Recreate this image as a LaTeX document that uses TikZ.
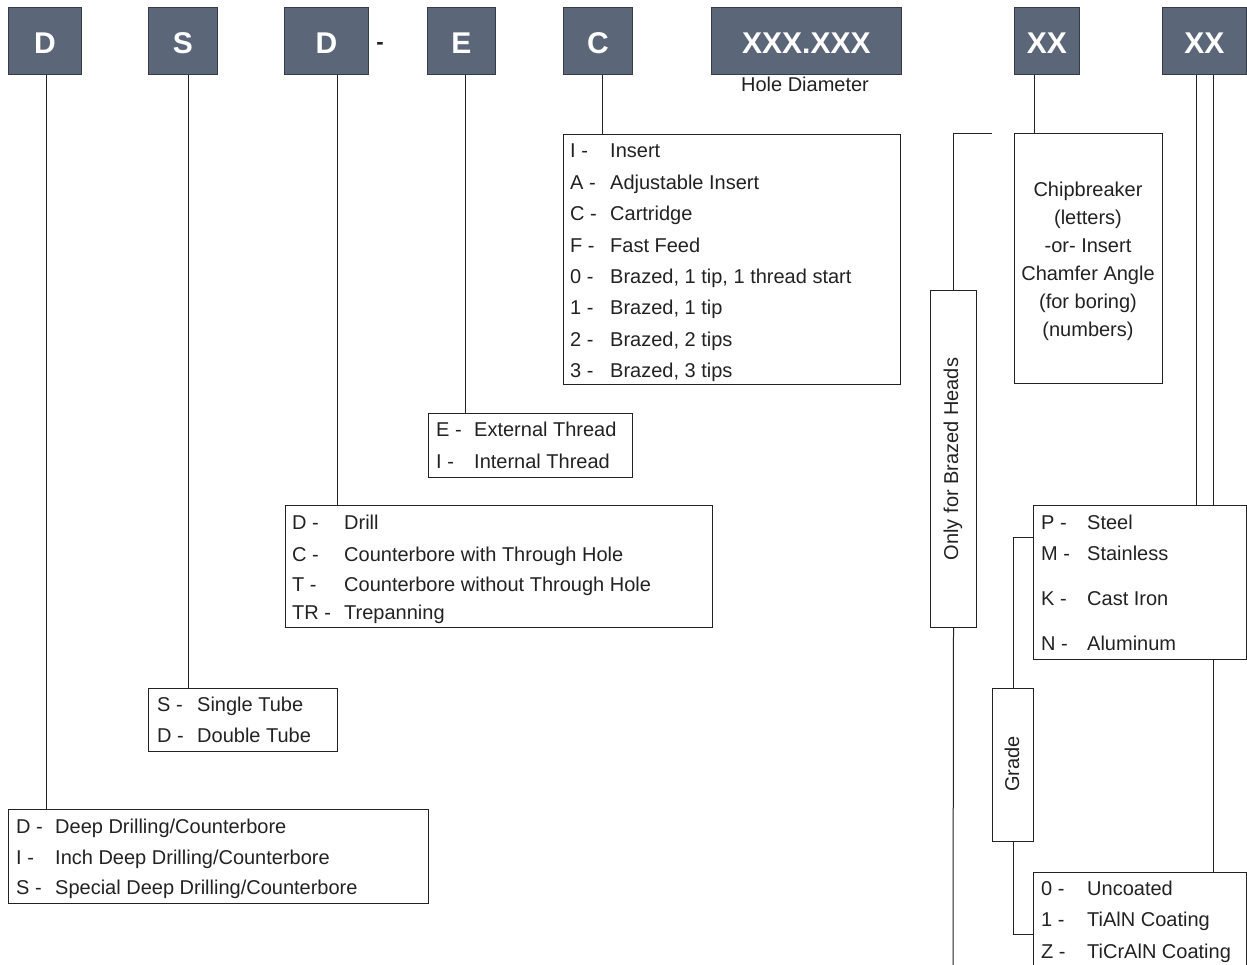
\documentclass[tikz,border=0pt]{standalone}
\usepackage{fontspec}
\setmainfont{Liberation Sans}
\definecolor{hdrfill}{HTML}{5C6679}
\definecolor{hdredge}{HTML}{353B47}
\definecolor{ink}{HTML}{222222}
\begin{document}
\begin{tikzpicture}[x=1pt,y=-1pt,
  hdr/.style={fill=hdrfill,draw=hdredge,line width=0.8pt,anchor=north west,inner sep=0pt,
    text=white,font=\fontsize{30}{32}\selectfont\bfseries,text height=25pt,text depth=0pt},
  optbox/.style={draw=ink,line width=1pt,anchor=north west,inner sep=0pt},
  conn/.style={draw=ink,line width=1pt},
  txt/.style={anchor=base west,inner sep=0pt,text=ink,font=\fontsize{20}{24}\selectfont},
  ctxt/.style={inner sep=0pt,text=ink,font=\fontsize{20}{28}\selectfont,align=center}]
\useasboundingbox (0,0) rectangle (1247,964);

% header boxes
\node[hdr,minimum width=73,minimum height=67] (hD1) at (8,7) {D};
\node[hdr,minimum width=69,minimum height=67] (hS) at (148,7) {S};
\node[hdr,minimum width=84,minimum height=67] (hD2) at (284,7) {D};
\node[anchor=base,inner sep=0pt,text=ink,font=\fontsize{22}{24}\selectfont\bfseries] (dash) at (380,49.5) {-};
\node[hdr,minimum width=68,minimum height=67] (hE) at (427,7) {E};
\node[hdr,minimum width=69,minimum height=67] (hC) at (563,7) {C};
\node[hdr,minimum width=190,minimum height=67] (hX) at (711,7) {XXX.XXX};
\node[hdr,minimum width=65,minimum height=67] (hXX1) at (1014,7) {XX};
\node[hdr,minimum width=84,minimum height=67] (hXX2) at (1162,7) {XX};
\node[anchor=base,inner sep=0pt,text=ink,font=\fontsize{20}{24}\selectfont] (hole) at (805,91) {Hole Diameter};

% option boxes
\node[optbox,minimum width=337,minimum height=250] (bC) at (563,134) {};
\node[optbox,minimum width=204,minimum height=64] (bE) at (428,413) {};
\node[optbox,minimum width=427,minimum height=122] (bD2) at (285,505) {};
\node[optbox,minimum width=189,minimum height=63] (bS) at (148,688) {};
\node[optbox,minimum width=420,minimum height=94] (bD1) at (8,809) {};
\node[optbox,minimum width=148,minimum height=250] (bChip) at (1014,133) {};
\node[optbox,minimum width=46,minimum height=337] (bBraz) at (930,290) {};
\node[optbox,minimum width=213,minimum height=154] (bMat) at (1033,505) {};
\node[optbox,minimum width=41,minimum height=153] (bGrade) at (992,688) {};
\node[optbox,minimum width=213,minimum height=110] (bCoat) at (1033,872) {};

% C box rows
\node[txt] (c1a) at (570,157.5) {I -};   \node[txt] (c1b) at (610,157.5) {Insert};
\node[txt] (c2a) at (570,189) {A -};     \node[txt] (c2b) at (610,189) {Adjustable Insert};
\node[txt] (c3a) at (570,220.5) {C -};   \node[txt] (c3b) at (610,220.5) {Cartridge};
\node[txt] (c4a) at (570,252) {F -};     \node[txt] (c4b) at (610,252) {Fast Feed};
\node[txt] (c5a) at (570,283) {0 -};     \node[txt] (c5b) at (610,283) {Brazed, 1 tip, 1 thread start};
\node[txt] (c6a) at (570,314.5) {1 -};   \node[txt] (c6b) at (610,314.5) {Brazed, 1 tip};
\node[txt] (c7a) at (570,346) {2 -};     \node[txt] (c7b) at (610,346) {Brazed, 2 tips};
\node[txt] (c8a) at (570,377.5) {3 -};   \node[txt] (c8b) at (610,377.5) {Brazed, 3 tips};

% E box rows
\node[txt] (e1a) at (436,436.5) {E -};   \node[txt] (e1b) at (474,436.5) {External Thread};
\node[txt] (e2a) at (436,468) {I -};     \node[txt] (e2b) at (474,468) {Internal Thread};

% D2 box rows
\node[txt] (d1a) at (292,529.5) {D -};   \node[txt] (d1b) at (344,529.5) {Drill};
\node[txt] (d2a) at (292,561) {C -};     \node[txt] (d2b) at (344,561) {Counterbore with Through Hole};
\node[txt] (d3a) at (292,591.5) {T -};   \node[txt] (d3b) at (344,591.5) {Counterbore without Through Hole};
\node[txt] (d4a) at (292,619.5) {TR -};  \node[txt] (d4b) at (344,619.5) {Trepanning};

% S box rows
\node[txt] (s1a) at (157,711.5) {S -};   \node[txt] (s1b) at (197,711.5) {Single Tube};
\node[txt] (s2a) at (157,742) {D -};     \node[txt] (s2b) at (197,742) {Double Tube};

% D1 box rows
\node[txt] (a1a) at (16,833) {D -};      \node[txt] (a1b) at (55,833) {Deep Drilling/Counterbore};
\node[txt] (a2a) at (16,864.5) {I -};    \node[txt] (a2b) at (55,864.5) {Inch Deep Drilling/Counterbore};
\node[txt] (a3a) at (16,894.5) {S -};    \node[txt] (a3b) at (55,894.5) {Special Deep Drilling/Counterbore};

% Chipbreaker text
\node[ctxt] (chiptxt) at (1088,261) {Chipbreaker\\(letters)\\-or- Insert\\Chamfer Angle\\(for boring)\\(numbers)};

% rotated labels
\node[ctxt,rotate=90] (braztxt) at (953,459) {Only for Brazed Heads};
\node[ctxt,rotate=90] (gradetxt) at (1012,764) {Grade};

% material rows
\node[txt] (m1a) at (1041,529) {P -};    \node[txt] (m1b) at (1087,529) {Steel};
\node[txt] (m2a) at (1041,560.5) {M -};  \node[txt] (m2b) at (1087,560.5) {Stainless};
\node[txt] (m3a) at (1041,605.5) {K -};  \node[txt] (m3b) at (1087,605.5) {Cast Iron};
\node[txt] (m4a) at (1041,650.5) {N -};  \node[txt] (m4b) at (1087,650.5) {Aluminum};

% coating rows
\node[txt] (k1a) at (1041,895.5) {0 -};  \node[txt] (k1b) at (1087,895.5) {Uncoated};
\node[txt] (k2a) at (1041,926.5) {1 -};  \node[txt] (k2b) at (1087,926.5) {TiAlN Coating};
\node[txt] (k3a) at (1041,958) {Z -};    \node[txt] (k3b) at (1087,958) {TiCrAlN Coating};

% connectors
\draw[conn] ([xshift=1.5pt]hD1.south) -- ([xshift=1.5pt]hD1.south |- bD1.north);
\draw[conn] ([xshift=5.5pt]hS.south) -- ([xshift=5.5pt]hS.south |- bS.north);
\draw[conn] ([xshift=11pt]hD2.south) -- ([xshift=11pt]hD2.south |- bD2.north);
\draw[conn] ([xshift=4.5pt]hE.south) -- ([xshift=4.5pt]hE.south |- bE.north);
\draw[conn] ([xshift=5pt]hC.south) -- ([xshift=5pt]hC.south |- bC.north);
\draw[conn] ([xshift=-12.5pt]hXX1.south) -- ([xshift=-12.5pt]hXX1.south |- bChip.north);
\draw[conn] ([xshift=-8pt]hXX2.south) -- ([xshift=-8pt]hXX2.south |- bMat.north);
\draw[conn] ([xshift=9pt]hXX2.south) -- ([xshift=9pt]hXX2.south |- bMat.north);
\draw[conn] ([xshift=9pt]hXX2.south |- bMat.south) -- ([xshift=9pt]hXX2.south |- bCoat.north);
\coordinate (brazend) at (992,133);
\coordinate (brazbot) at (953,970);
\draw[conn] (brazend) -- (bBraz.north |- brazend) -- (bBraz.north);
\draw[conn] (bBraz.south) -- (brazbot);
\draw[conn] (bMat.west |- 0,537) -- (bGrade.north |- 0,537) -- (bGrade.north);
\draw[conn] (bGrade.south) -- (bGrade.south |- 0,934) -- (bCoat.west |- 0,934);
\end{tikzpicture}
\end{document}
